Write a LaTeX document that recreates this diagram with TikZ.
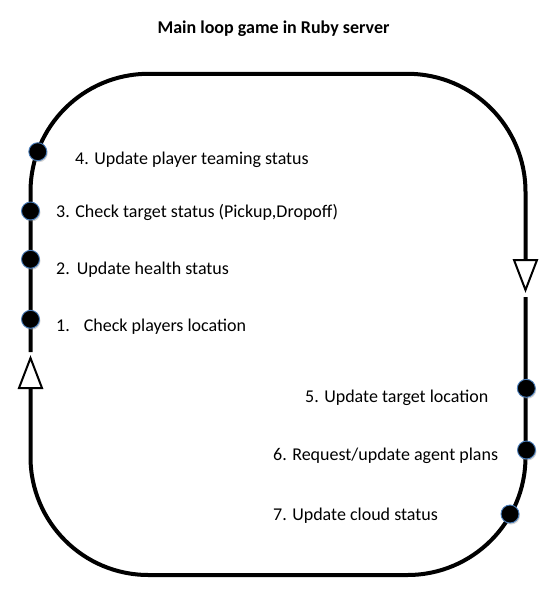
\documentclass[tikz,border=0pt]{standalone}
\usepackage{fontspec}
\setmainfont{Carlito}
\usetikzlibrary{shadows}
\definecolor{dotedge}{HTML}{4A7EBB}
\begin{document}
\begin{tikzpicture}[x=1pt,y=-1pt,
  loopline/.style={line width=4pt, rounded corners=118pt},
  tipshape/.style={draw=black, line width=2pt, fill=white, line join=miter},
  stepdot/.style={circle, fill=black, draw=dotedge, line width=0.9pt, minimum size=18pt, inner sep=0pt,
    drop shadow={opacity=0.35, shadow xshift=1pt, shadow yshift=-1.5pt}},
  steplabel/.style={anchor=base west, inner sep=0pt, font=\fontsize{18}{21}\selectfont},
  titlelabel/.style={anchor=base, inner sep=0pt, font=\fontsize{18}{21}\selectfont\bfseries}
]
\useasboundingbox (0,0) rectangle (559,592);
% corner coordinates
\coordinate (TL) at (30.5,73.8);
\coordinate (TR) at (525.5,73.8);
\coordinate (BR) at (525.5,575);
\coordinate (BL) at (30.5,575);
% arrow break coordinates
\coordinate (Rin) at (525.5,260);
\coordinate (Rtip) at (525.5,290);
\coordinate (Rout) at (525.5,297);
\coordinate (Lin) at (30.5,388);
\coordinate (Ltip) at (30.5,358);
\coordinate (Lout) at (30.5,352);
% loop
\draw[loopline] (Lout) -- (TL) -- (TR) -- (Rin);
\draw[loopline] (Rout) -- (BR) -- (BL) -- (Lin);
% arrow heads
\draw[tipshape] ([xshift=-11.5pt]Rin) -- ([xshift=11.5pt]Rin) -- (Rtip) -- cycle;
\draw[tipshape] ([xshift=-11.5pt]Lin) -- ([xshift=11.5pt]Lin) -- (Ltip) -- cycle;
% dots
\node[stepdot] (d4) at (37.8,151.7) {};
\node[stepdot] (d3) at (30.5,211) {};
\node[stepdot] (d2) at (30.5,259.3) {};
\node[stepdot] (d1) at (30.5,319.3) {};
\node[stepdot] (d5) at (526.3,388.3) {};
\node[stepdot] (d6) at (526.5,450) {};
\node[stepdot] (d7) at (510,514) {};
% labels
\node[titlelabel] (title) at (273.5,33) {Main loop game in Ruby server};
\node[steplabel] (t4) at (75,164) {4. Update player teaming status};
\node[steplabel] (t3) at (56,217) {3. Check target status (Pickup,Dropoff)};
\node[steplabel] (t2) at (56,274) {2.\hspace{7pt}Update health status};
\node[steplabel] (t1) at (56,331) {1.\hspace{14pt}Check players location};
\node[steplabel] (t5) at (305,402) {5. Update target location};
\node[steplabel] (t6) at (273,460) {6. Request/update agent plans};
\node[steplabel] (t7) at (273,520) {7. Update cloud status};
\end{tikzpicture}
\end{document}
